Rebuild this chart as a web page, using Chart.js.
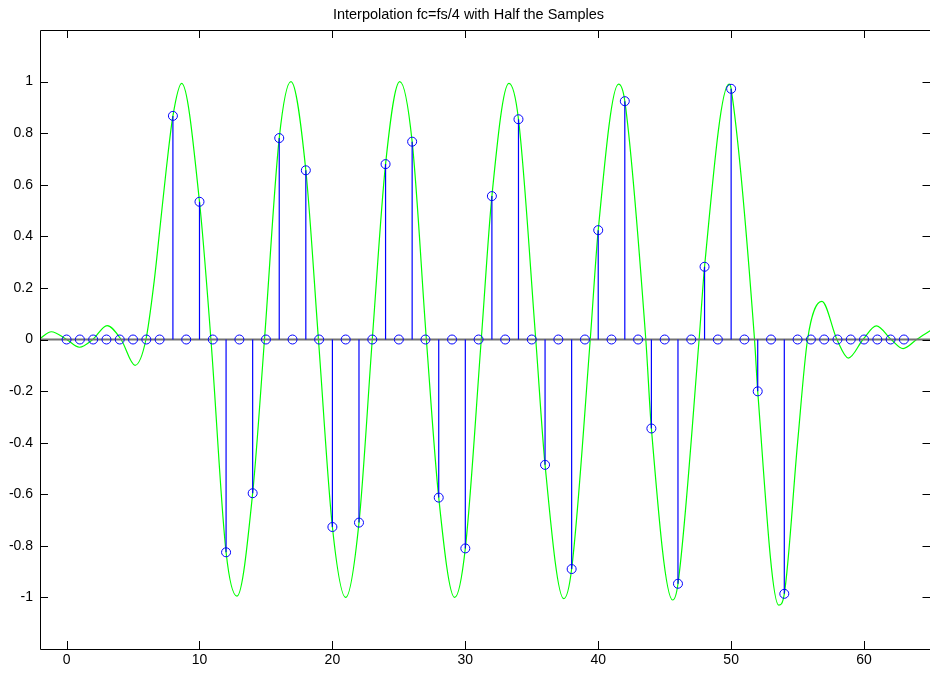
<!DOCTYPE html>
<html>
<head>
<meta charset="utf-8">
<script src="https://cdn.jsdelivr.net/npm/chart.js@4.4.1/dist/chart.umd.min.js"></script>
<style>
  html, body { margin: 0; padding: 0; background: #fff; overflow: hidden; }
  #wrap { position: absolute; left: 0; top: 0; width: 936px; height: 673px; }
</style>
</head>
<body>
<div id="wrap"><canvas id="mycanvas"></canvas></div>
<script>
// sample values, index 0..63 (odd samples zeroed)
var sampleValues = [
	0, 0, 0, 0, 0, 0, 0, 0,
	0.867, 0, 0.534, 0, -0.825, 0, -0.596, 0,
	0.781, 0, 0.656, 0, -0.727, 0, -0.710, 0,
	0.680, 0, 0.767, 0, -0.613, 0, -0.810, 0,
	0.556, 0, 0.854, 0, -0.486, 0, -0.890, 0,
	0.424, 0, 0.924, 0, -0.345, 0, -0.947, 0,
	0.282, 0, 0.972, 0, -0.201, 0, -0.986, 0,
	0, 0, 0, 0, 0, 0, 0, 0
];

// green curve (peaks, troughs, crossings, sample points)
var curveX = [-2, -1.15, 0, 0.97, 1.97, 3.05, 4.1, 5.15, 5.97, 6.6, 7.0, 7.5, 8, 8.66,
	10, 10.86, 12, 12.82, 14, 14.89, 16, 16.88, 18, 18.95, 20, 21.0, 22, 23.0,
	24, 25.07, 26, 27.07, 28, 29.2, 30, 31.2, 32, 33.28, 34, 35.3, 36, 37.41,
	38, 39.4, 40, 41.53, 42, 43.58, 44, 45.6, 46, 47.59, 48, 49.84, 50, 51.76,
	52, 53.58, 54, 55, 55.75, 56.83, 57.96, 58.82, 59.92, 60.93, 62.04, 62.94, 63.95, 65];
var curveY = [0.004, 0.03, 0, -0.03, 0, 0.054, 0, -0.10, 0, 0.23, 0.42, 0.66, 0.867, 0.993,
	0.534, 0, -0.825, -0.995, -0.596, 0, 0.781, 1.0, 0.656, 0, -0.727, -1.0, -0.710, 0,
	0.680, 1.0, 0.767, 0, -0.613, -1.0, -0.810, 0, 0.556, 0.993, 0.854, 0, -0.486, -1.005,
	-0.890, 0, 0.424, 0.99, 0.924, 0, -0.345, -1.01, -0.947, 0, 0.282, 0.99, 0.972, 0,
	-0.201, -1.03, -0.986, -0.40, 0, 0.148, 0, -0.072, 0, 0.053, 0, -0.035, 0, 0.035];

var xTicks = [0, 10, 20, 30, 40, 50, 60];
var yTicks = [-1, -0.8, -0.6, -0.4, -0.2, 0, 0.2, 0.4, 0.6, 0.8, 1];
var xMin = -2, xMax = 65;
var yMin = -1.2, yMax = 1.2;
var titleText = "Interpolation fc=fs/4 with Half the Samples";

var stemPoints = [];
for (var i = 0; i < sampleValues.length; i++) {
	stemPoints.push({x: i, y: sampleValues[i]});
}
var curvePoints = [];
for (var j = 0; j < curveX.length; j++) {
	curvePoints.push({x: curveX[j], y: curveY[j]});
}

// matlab style box with inward ticks on all sides
var boxPlugin = {
	id: 'box',
	afterDraw: function(chart) {
		var ctx = chart.ctx;
		var a = chart.chartArea;
		var xs = chart.scales.x, ys = chart.scales.y;
		var tl = 8;
		ctx.save();
		ctx.strokeStyle = '#000';
		ctx.lineWidth = 1;
		ctx.beginPath();
		ctx.rect(Math.round(a.left) + 0.5, Math.round(a.top) + 0.5,
			Math.round(a.right - a.left), Math.round(a.bottom - a.top));
		xTicks.forEach(function(v) {
			var px = Math.round(xs.getPixelForValue(v)) + 0.5;
			ctx.moveTo(px, a.bottom); ctx.lineTo(px, a.bottom - tl);
			ctx.moveTo(px, a.top); ctx.lineTo(px, a.top + tl);
		});
		yTicks.forEach(function(v) {
			var py = Math.round(ys.getPixelForValue(v)) + 0.5;
			ctx.moveTo(a.left, py); ctx.lineTo(a.left + tl, py);
			ctx.moveTo(a.right, py); ctx.lineTo(a.right - tl, py);
		});
		ctx.stroke();
		ctx.restore();
	}
};

var ctx = document.getElementById('mycanvas');

var StemGraph = new Chart(ctx, {
	type: 'scatter',
	data: {
		datasets: [
			{
				type: 'scatter',
				label: 'samples',
				data: stemPoints,
				pointStyle: 'circle',
				pointRadius: 4.5,
				pointBorderWidth: 1,
				borderColor: '#0000ff',
				backgroundColor: 'rgba(0,0,0,0)',
				order: 0
			},
			{
				type: 'bar',
				label: 'stems',
				data: stemPoints,
				barThickness: 1.2,
				backgroundColor: '#0000ff',
				borderWidth: 0,
				inflateAmount: 0,
				order: 1
			},
			{
				type: 'line',
				label: 'baseline',
				data: [{x: xMin, y: 0}, {x: xMax, y: 0}],
				borderColor: '#737373',
				borderWidth: 2,
				pointRadius: 0,
				order: 2
			},
			{
				type: 'line',
				label: 'interpolated',
				data: curvePoints,
				borderColor: '#00ff00',
				borderWidth: 1.2,
				pointRadius: 0,
				fill: false,
				cubicInterpolationMode: 'monotone',
				order: 3
			}
		]
	},
	options: {
		responsive: true,
		maintainAspectRatio: false,
		devicePixelRatio: 1,
		animation: false,
		events: [],
		layout: { padding: { left: 0, right: -1, top: 0, bottom: 0 } },
		plugins: {
			legend: { display: false },
			tooltip: { enabled: false },
			title: {
				display: true,
				text: titleText,
				color: '#000',
				font: { family: 'Liberation Sans, Arial, sans-serif', size: 14.5, weight: 'normal' },
				padding: { top: 6, bottom: 6.6 }
			}
		},
		scales: {
			x: {
				type: 'linear',
				min: xMin,
				max: xMax,
				offset: false,
				grid: { display: false, offset: false, drawTicks: false, tickLength: 0 },
				border: { display: false },
				afterBuildTicks: function(axis) {
					axis.ticks = xTicks.map(function(v) { return {value: v}; });
				},
				afterFit: function(axis) { axis.height = 24; },
				ticks: {
					color: '#000',
					padding: 3,
					maxRotation: 0,
					font: { family: 'Liberation Sans, Arial, sans-serif', size: 14 },
					callback: function(v) { return String(v); }
				}
			},
			y: {
				type: 'linear',
				min: yMin,
				max: yMax,
				grid: { display: false, drawTicks: false, tickLength: 0 },
				border: { display: false },
				afterBuildTicks: function(axis) {
					axis.ticks = yTicks.map(function(v) { return {value: v}; });
				},
				afterFit: function(axis) { axis.width = 40; },
				ticks: {
					color: '#000',
					padding: 7,
					font: { family: 'Liberation Sans, Arial, sans-serif', size: 14 },
					callback: function(v) { return String(Math.round(v * 10) / 10); }
				}
			}
		}
	},
	plugins: [boxPlugin]
});
</script>
</body>
</html>
